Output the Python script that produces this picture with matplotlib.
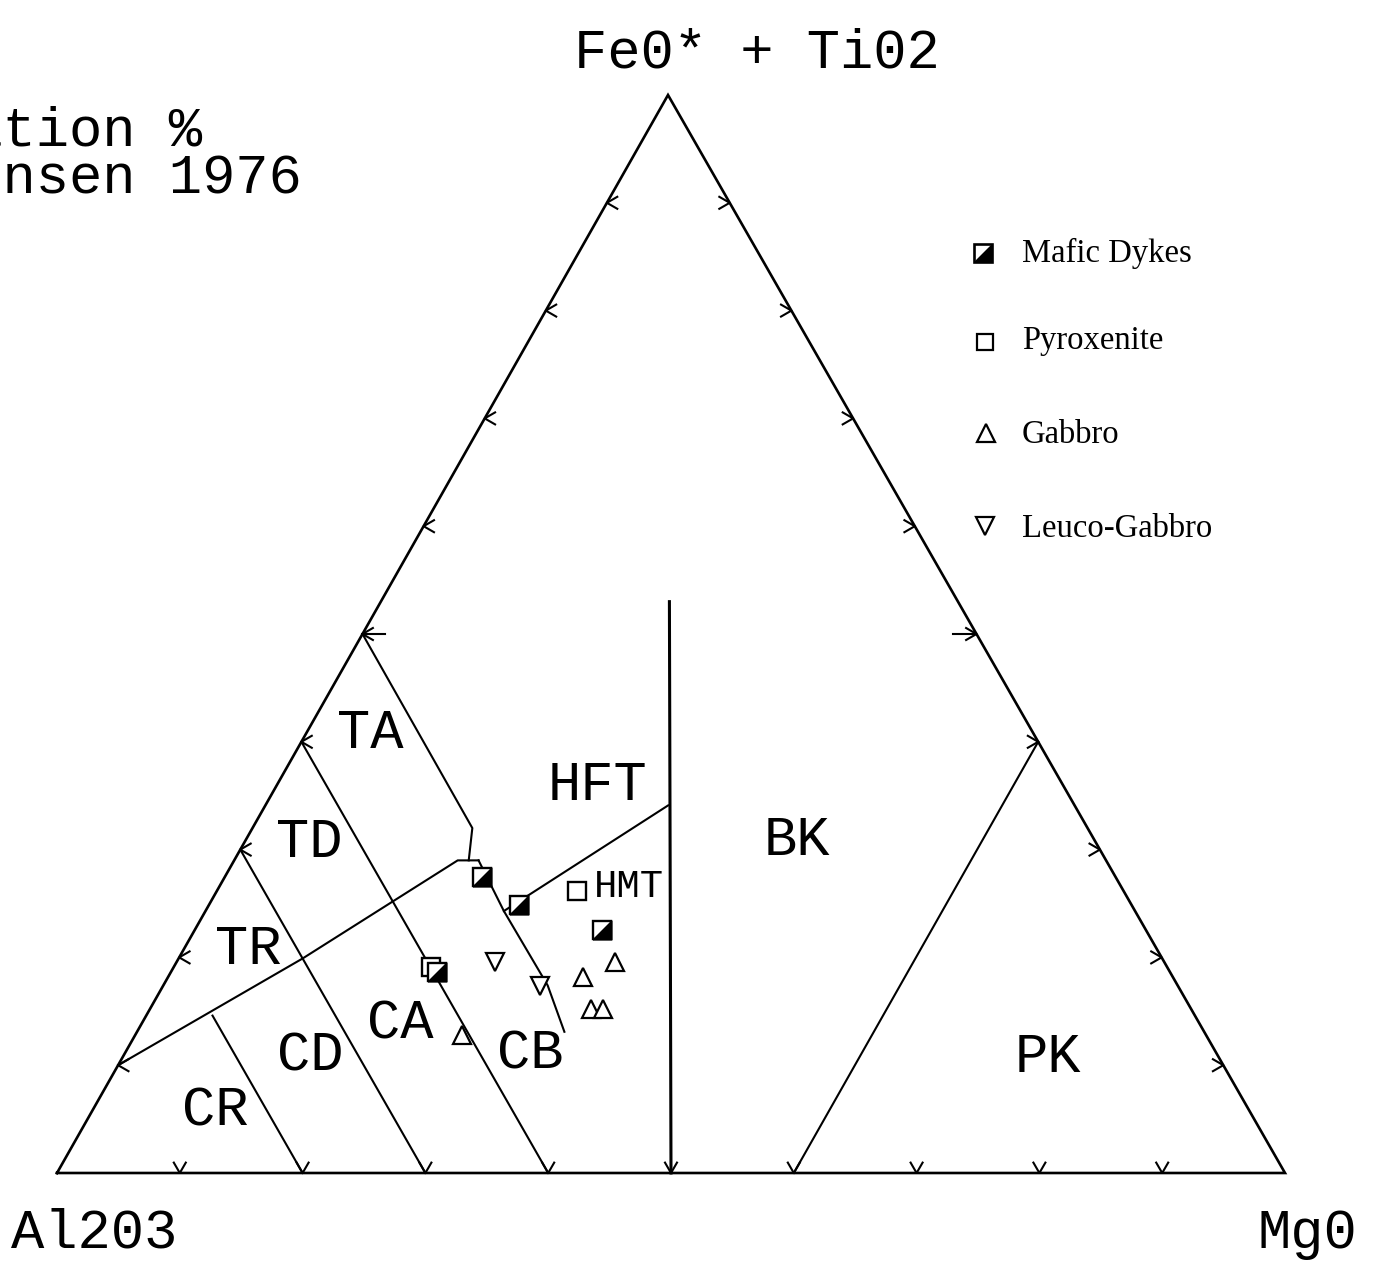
import numpy as np
import matplotlib
matplotlib.use("Agg")
from matplotlib import pyplot as plt

# page position (pixels) of the three corners: Al2O3, FeO*+TiO2, MgO
AL_XY = (57, 1173)
FE_XY = (668, 95)
MG_XY = (1285, 1173)

# sample compositions, cation % (Al, Fe+Ti, Mg)
mafic_dykes = [(51.6, 27.5, 20.9), (49.9, 24.9, 25.2), (44.3, 22.5, 33.2), (59.7, 18.6, 21.7)]
pyroxenite = [(44.5, 26.2, 29.3), (59.9, 19.1, 20.9)]
gabbro = [(44.6, 19.8, 35.6), (47.9, 18.4, 33.7), (48.8, 15.4, 35.8), (47.8, 15.4, 36.8), (60.5, 13.0, 26.5)]
leuco_gabbro = [(54.6, 19.4, 26.0), (52.0, 17.2, 30.8)]

# Jensen (1976) field boundaries, cation % (Al, Fe+Ti, Mg)
hft_bk = [(23.5, 53.0, 23.5), (50.0, 0.0, 50.0)]
bk_pk = [(40.0, 0.0, 60.0), (0.0, 40.0, 60.0)]
th_ca = [(90.0, 10.0, 0.0), (70.0, 19.9, 10.1), (52.8, 29.0, 18.2), (51.1, 29.0, 19.9)]
ta_hft = [(50.0, 50.0, 0.0), (50.1, 32.0, 17.9), (51.9, 29.0, 19.1)]
cb_hmt = [(51.1, 29.0, 19.9), (51.4, 24.3, 24.3), (51.3, 17.4, 31.3), (52.1, 13.1, 34.8)]
hft_hmt = [(51.4, 24.3, 24.3), (33.1, 34.1, 32.8)]
al80 = [(80.0, 14.6, 5.4), (80.0, 0.0, 20.0)]
al70 = [(70.0, 30.0, 0.0), (70.0, 0.0, 30.0)]
al60 = [(60.0, 40.0, 0.0), (60.0, 0.0, 40.0)]
boundaries = [th_ca, ta_hft, cb_hmt, hft_hmt, al80, al70, al60, bk_pk]

field_names = ["TA", "HFT", "TD", "BK", "TR", "CA", "CB", "CD", "CR", "PK"]
field_pos = [(54.7, 39.4, 5.9), (38.6, 34.6, 26.8), (64.7, 29.3, 6.0), (24.9, 29.5, 45.6),
             (74.7, 19.4, 5.9), (65.8, 12.5, 21.7), (56.6, 9.7, 33.7), (74.6, 9.5, 15.9),
             (84.9, 4.4, 10.7), (14.6, 9.4, 76.0)]
hmt_pos = [(40.6, 25.6, 33.8)]
tick_steps = [10, 20, 30, 40, 50, 60, 70, 80, 90]


def tern(pts):
    p = np.asarray(pts, dtype=float)
    s = p.sum(axis=1)
    x = (p[:, 0] * AL_XY[0] + p[:, 1] * FE_XY[0] + p[:, 2] * MG_XY[0]) / s
    y = (p[:, 0] * AL_XY[1] + p[:, 1] * FE_XY[1] + p[:, 2] * MG_XY[1]) / s
    return x, y


fig = plt.figure(figsize=(13.75, 12.62), dpi=100)
ax = fig.add_axes([0, 0, 1, 1])
ax.set_xlim(0, 1375)
ax.set_ylim(1262, 0)
ax.axis("off")

mono = "Liberation Mono"
serif = "Liberation Serif"
big = 40

# outline of the triangle
ox, oy = tern([(100, 0, 0), (0, 0, 100), (0, 100, 0), (100, 0, 0)])
ax.plot(ox, oy, color="black", lw=1.9, solid_joinstyle="miter")

# field boundaries
for b in boundaries:
    bx, by = tern(b)
    ax.plot(bx, by, color="black", lw=1.5)
vx, vy = tern(hft_bk)
ax.plot(vx, vy, color="black", lw=2.2)

# arrow-like ticks every 10 %
a = 12
c30, s30 = np.cos(np.pi / 6), np.sin(np.pi / 6)
for t in tick_steps:
    lx, ly = tern([(100 - t, t, 0)])
    rx, ry = tern([(0, t, 100 - t)])
    bx, by = tern([(100 - t, 0, t)])
    lx, ly, rx, ry, bx, by = lx[0], ly[0], rx[0], ry[0], bx[0], by[0]
    ax.plot([lx + a * c30, lx, lx + a * c30], [ly - a * s30, ly, ly + a * s30], color="black", lw=1.5)
    ax.plot([rx - a * c30, rx, rx - a * c30], [ry - a * s30, ry, ry + a * s30], color="black", lw=1.5)
    ax.plot([bx - a * s30, bx, bx + a * s30], [by - a * c30, by, by - a * c30], color="black", lw=1.5)
    if t == 50:
        ax.plot([lx, lx + 23], [ly, ly], color="black", lw=1.5)
        ax.plot([rx, rx - 23], [ry, ry], color="black", lw=1.5)

# samples
ms = 13.5
gx, gy = tern(gabbro)
ax.plot(gx, gy + 2, ls="none", marker="^", ms=ms, mfc="white", mec="black", mew=1.6)
lgx, lgy = tern(leuco_gabbro)
ax.plot(lgx, lgy - 2, ls="none", marker="v", ms=ms, mfc="white", mec="black", mew=1.6)
px, py = tern(pyroxenite)
ax.plot(px, py, ls="none", marker="s", ms=ms, mfc="white", mec="black", mew=1.7)
half = [(-1, -1), (1, -1), (1, 1), (-1, -1)]
mx, my = tern(mafic_dykes)
ax.plot(mx, my, ls="none", marker="s", ms=ms, mfc="white", mec="black", mew=1.7)
ax.plot(mx, my, ls="none", marker=half, ms=ms, mfc="black", mec="black", mew=1.0)

# field labels
fx, fy = tern(field_pos)
for name, x, y in zip(field_names, fx, fy):
    ax.text(x, y, name, fontsize=big, family=mono, ha="center", va="baseline")
hx, hy = tern(hmt_pos)
ax.text(hx[0], hy[0], "HMT", fontsize=28, family=mono, ha="center", va="baseline")

# corner and title texts
ax.text(757, 68, "Fe0* + Ti02", fontsize=big, family=mono, ha="center", va="baseline")
ax.text(94, 1248, "Al203", fontsize=big, family=mono, ha="center", va="baseline")
ax.text(1307, 1248, "Mg0", fontsize=big, family=mono, ha="center", va="baseline")
ax.text(-64, 145, "Cation %", fontsize=big, family=mono, ha="left", va="baseline")
ax.text(-64, 193, "Jensen 1976", fontsize=big, family=mono, ha="left", va="baseline")

# legend
leg_names = ["Mafic Dykes", "Pyroxenite", "Gabbro", "Leuco-Gabbro"]
leg_y = [253, 342, 433, 526]
leg_base = [262, 349, 443, 537]
ax.plot(983, leg_y[0], marker="s", ms=12.5, mfc="white", mec="black", mew=1.9)
ax.plot(983, leg_y[0], marker=half, ms=12.5, mfc="black", mec="black", mew=1.0)
ax.plot(985, leg_y[1], marker="s", ms=11.5, mfc="white", mec="black", mew=1.6)
ax.plot(986, leg_y[2], marker="^", ms=13, mfc="white", mec="black", mew=1.6)
ax.plot(985, leg_y[3], marker="v", ms=13, mfc="white", mec="black", mew=1.6)
for name, yb in zip(leg_names, leg_base):
    ax.text(1022, yb, name, fontsize=23.5, family=serif, ha="left", va="baseline")

fig.savefig("out.png", dpi=100)
